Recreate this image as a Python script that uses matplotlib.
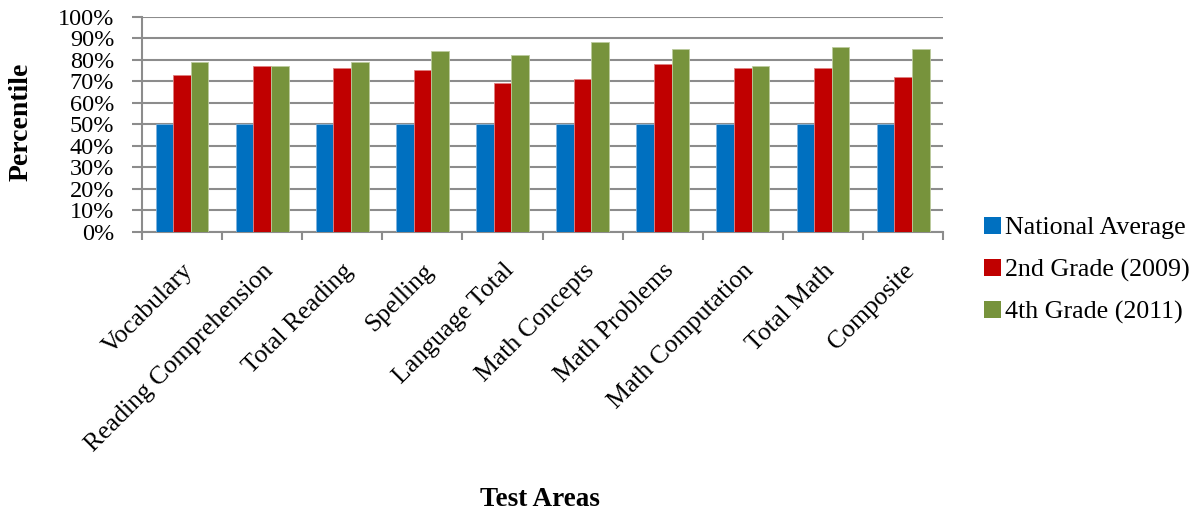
import matplotlib
matplotlib.use("Agg")
import matplotlib.pyplot as plt
import numpy as np
from matplotlib.patches import Patch

categories = ["Vocabulary", "Reading Comprehension", "Total Reading", "Spelling",
              "Language Total", "Math Concepts", "Math Problems", "Math Computation",
              "Total Math", "Composite"]
national_avg = [50, 50, 50, 50, 50, 50, 50, 50, 50, 50]
grade2_2009 = [73, 77, 76, 75, 69, 71, 78, 76, 76, 72]
grade4_2011 = [79, 77, 79, 84, 82, 88, 85, 77, 86, 85]
series_names = ["National Average", "2nd Grade (2009)", "4th Grade (2011)"]
yticks = list(range(0, 101, 10))

colors = ["#0070C0", "#C00000", "#77933C"]
edge_colors = ["#7fb3de", "#e08080", "#bccb9d"]
grid_color = "#8c8c8c"

plt.rcParams["font.family"] = ["Liberation Serif", "DejaVu Serif"]

fig = plt.figure(figsize=(12, 5.18), dpi=100)
ax = fig.add_axes([0.1183, 0.5527, 0.786 - 0.1183, 0.9678 - 0.5527])

x = np.arange(len(categories))
w = 0.22
for i, vals in enumerate([national_avg, grade2_2009, grade4_2011]):
    ax.bar(x + (i - 1) * w, vals, width=w, color=colors[i],
           edgecolor=edge_colors[i], linewidth=0.6, zorder=3)

ax.set_xlim(-0.5, len(categories) - 0.5)
ax.set_ylim(0, 100)
ax.set_yticks(yticks)
ax.set_yticklabels([f"{t}%" for t in yticks], fontsize=17.5)
ax.yaxis.grid(True, color=grid_color, linewidth=1.5, zorder=0)
ax.set_axisbelow(True)

# category ticks at group boundaries, labels at centers
ax.set_xticks(np.arange(-0.5, len(categories)), minor=False)
ax.set_xticklabels([])
ax.set_xticks(x, minor=True)
ax.set_xticklabels(categories, minor=True, rotation=45, ha="right",
                   rotation_mode="anchor", fontsize=18.5)
ax.tick_params(axis="x", which="minor", length=0, pad=20)
ax.tick_params(axis="x", which="major", length=6, width=1.5, color=grid_color)
ax.tick_params(axis="y", length=7, width=1.5, color=grid_color, pad=13)

for s in ["top", "right"]:
    ax.spines[s].set_visible(False)
for s in ["left", "bottom"]:
    ax.spines[s].set_color(grid_color)
    ax.spines[s].set_linewidth(1.5)

fig.text(21 / 1200, 1 - 122 / 518, "Percentile", fontsize=20, fontweight="bold",
         rotation=90, ha="center", va="center")
fig.text(540 / 1200, 1 - 500 / 518, "Test Areas", fontsize=19.5, fontweight="bold",
         ha="center", va="center")

handles = [Patch(facecolor=c, edgecolor="none") for c in colors]
fig.legend(handles, series_names, loc="upper left", bbox_to_anchor=(0.8115, 0.602),
           frameon=False, fontsize=18.7, handlelength=0.65, handleheight=0.65,
           handletextpad=0.15, labelspacing=0.74, borderaxespad=0)

fig.savefig("out.png", dpi=100)
